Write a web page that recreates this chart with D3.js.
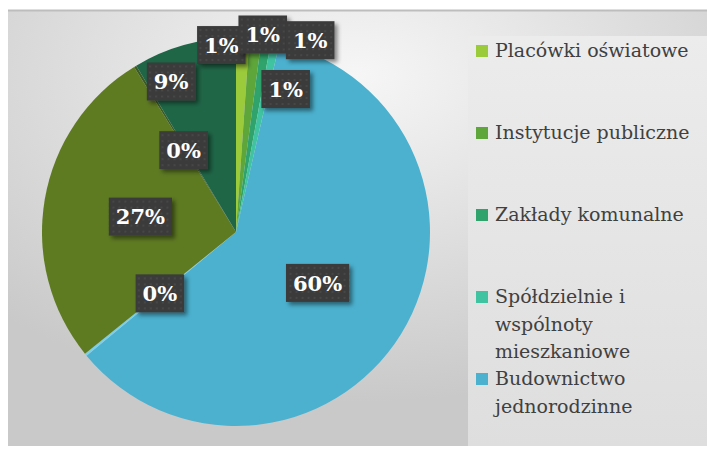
<!DOCTYPE html>
<html>
<head>
<meta charset="utf-8">
<script src="https://cdn.jsdelivr.net/npm/d3@7"></script>
<style>
  body { margin: 0; background: #fff; }
  svg { display: block; }
</style>
</head>
<body>
<svg width="707" height="449"></svg>
<script>
const svg = d3.select('svg');
const width = +svg.attr('width');
const height = +svg.attr('height');

// data (share of total, %)
const categories = [
  'Placówki oświatowe',
  'Instytucje publiczne',
  'Zakłady komunalne',
  'Spółdzielnie i wspólnoty mieszkaniowe',
  'Budownictwo jednorodzinne',
  'Oświetlenie uliczne',
  'Transport',
  'Rolnictwo',
  'Handel, usługi i przemysł'
];
const values = [1.1, 1.0, 0.8, 0.7, 60.4, 0.2, 27.0, 0.2, 8.6];
const colors = ['#9bca3a', '#5ea53a', '#2fa36b', '#40c3a1', '#4bb1cf', '#7ad0ea', '#5e7b22', '#3b5b22', '#1f6647'];
// only the first five made it into the legend
const legendCount = 5;

// hand-tuned nudges of the data labels away from the slice centroids (best fit)
const labelNudge = [[-18, -90], [17, -101], [59, -96], [30, -48], [-1, 0], [-1, 0], [0, 1], [-2, 1], [-39, -57]];

const cx = 236, cy = 232, radius = 194;
const serif = 'DejaVu Serif, Liberation Serif, serif';

const defs = svg.append('defs');

// panel background
const bg = defs.append('radialGradient').attr('id', 'bg')
  .attr('cx', '50%').attr('cy', '15%').attr('r', '75%');
bg.append('stop').attr('offset', '0%').attr('stop-color', '#f6f6f6');
bg.append('stop').attr('offset', '100%').attr('stop-color', '#c9c9c9');

const lg = defs.append('linearGradient').attr('id', 'legbg')
  .attr('x1', 0).attr('y1', 0).attr('x2', 0).attr('y2', 1);
lg.append('stop').attr('offset', '0%').attr('stop-color', '#ececec');
lg.append('stop').attr('offset', '100%').attr('stop-color', '#dedede');

// dotted fill for label boxes
const pat = defs.append('pattern').attr('id', 'dots')
  .attr('width', 6).attr('height', 6).attr('patternUnits', 'userSpaceOnUse');
pat.append('rect').attr('width', 6).attr('height', 6).attr('fill', '#3b3b3b');
pat.append('circle').attr('cx', 3).attr('cy', 3).attr('r', 0.9).attr('fill', '#4c4c4c');

const shadow = defs.append('filter').attr('id', 'shadow')
  .attr('x', '-30%').attr('y', '-30%').attr('width', '170%').attr('height', '170%');
shadow.append('feDropShadow').attr('dx', 3).attr('dy', 3).attr('stdDeviation', 2)
  .attr('flood-color', '#000').attr('flood-opacity', 0.45);

svg.append('rect').attr('x', 8).attr('y', 10).attr('width', width - 8).attr('height', height - 13)
  .attr('fill', 'url(#bg)');
svg.append('line').attr('x1', 8).attr('x2', width).attr('y1', 10.5).attr('y2', 10.5)
  .attr('stroke', '#bdbdbd').attr('stroke-width', 2);
svg.append('rect').attr('x', 468).attr('y', 36).attr('width', width - 468).attr('height', height - 3 - 36)
  .attr('fill', 'url(#legbg)');

// pie
const pie = d3.pie().sort(null).value(d => d);
const arcs = pie(values);
const arc = d3.arc().innerRadius(0).outerRadius(radius);
const labelArc = d3.arc().innerRadius(radius * 0.5).outerRadius(radius * 0.5);

const g = svg.append('g').attr('transform', `translate(${cx},${cy})`);

g.selectAll('path.slice')
  .data(arcs)
  .enter()
  .append('path')
  .attr('class', 'slice')
  .attr('d', arc)
  .attr('fill', (d, i) => colors[i]);

// data labels
const labels = g.selectAll('g.lbl')
  .data(arcs)
  .enter()
  .append('g')
  .attr('class', 'lbl')
  .attr('transform', (d, i) => {
    const c = labelArc.centroid(d);
    return `translate(${c[0] + labelNudge[i][0]},${c[1] + labelNudge[i][1]})`;
  });

labels.append('rect').attr('filter', 'url(#shadow)').attr('fill', 'url(#dots)');
labels.append('text')
  .text(d => Math.round(d.value) + '%')
  .attr('text-anchor', 'middle')
  .attr('dy', '0.36em')
  .attr('fill', '#fff')
  .style('font-family', serif)
  .attr('font-weight', 700)
  .attr('font-size', 21);

labels.each(function () {
  const sel = d3.select(this);
  const w = sel.select('text').node().getComputedTextLength() + 14;
  const h = 38;
  sel.select('rect').attr('x', -w / 2).attr('y', -h / 2).attr('width', w).attr('height', h);
});

// legend
const legend = svg.append('g').attr('transform', 'translate(476,57)');
const legendStep = 82, lineHeight = 27.5, maxTextWidth = 205;

const items = legend.selectAll('g.item')
  .data(categories.slice(0, legendCount))
  .enter()
  .append('g')
  .attr('class', 'item')
  .attr('transform', (d, i) => `translate(0,${i * legendStep})`);

items.append('rect')
  .attr('x', 0).attr('y', -12).attr('width', 12).attr('height', 12)
  .attr('fill', (d, i) => colors[i]);

items.each(function (d) {
  const text = d3.select(this).append('text')
    .attr('x', 19)
    .attr('fill', '#404040')
    .style('font-family', serif)
    .attr('font-size', 19);
  const words = d.split(' ');
  let line = [];
  let lineNo = 0;
  let tspan = text.append('tspan').attr('x', 19).attr('y', 0);
  words.forEach(w => {
    line.push(w);
    tspan.text(line.join(' '));
    if (tspan.node().getComputedTextLength() > maxTextWidth && line.length > 1) {
      line.pop();
      tspan.text(line.join(' '));
      line = [w];
      lineNo++;
      tspan = text.append('tspan').attr('x', 19).attr('y', lineNo * lineHeight).text(w);
    }
  });
});
</script>
</body>
</html>
